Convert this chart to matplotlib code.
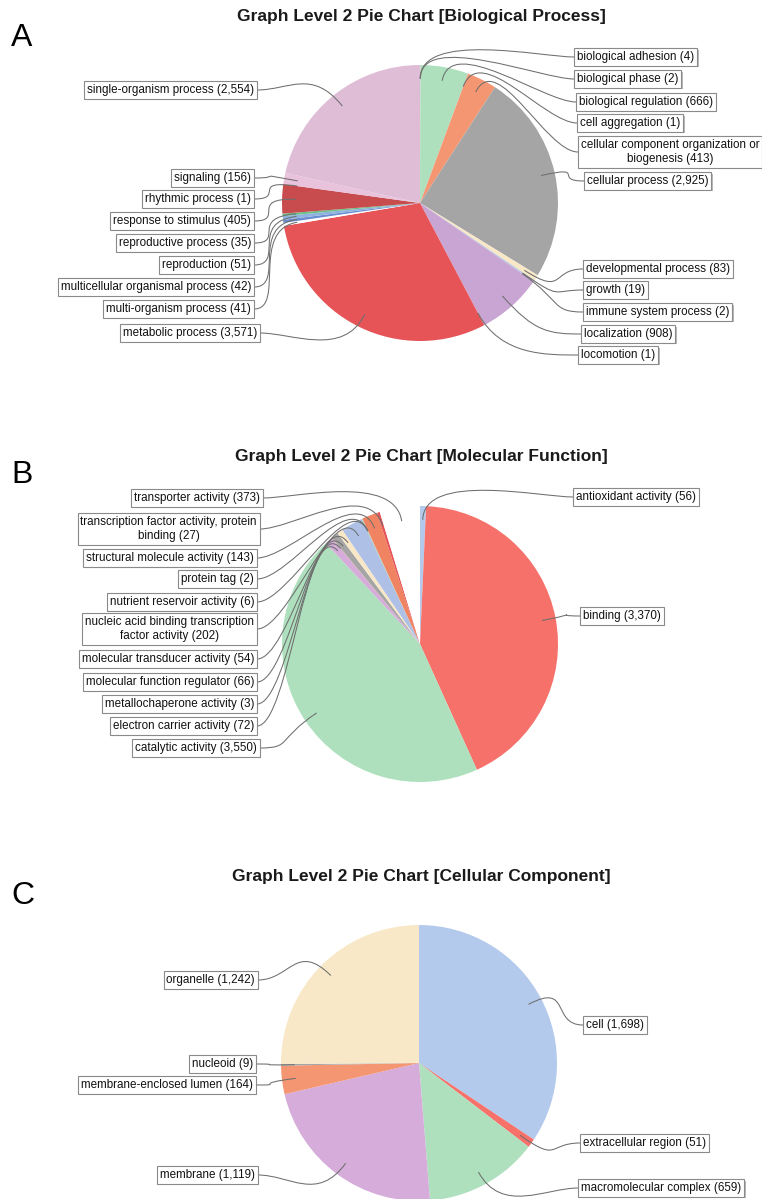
import textwrap
import numpy as np
import matplotlib
matplotlib.use("Agg")
import matplotlib.pyplot as plt
from matplotlib.path import Path
from matplotlib.patches import PathPatch

plt.rcParams['font.family'] = ['Liberation Sans', 'DejaVu Sans']

W, H = 762, 1199

# --- data (GO level 2 counts) ---
bp_names = ["biological adhesion", "biological phase", "biological regulation",
            "cell aggregation", "cellular component organization or biogenesis",
            "cellular process", "developmental process", "growth",
            "immune system process", "localization", "locomotion",
            "metabolic process", "multi-organism process",
            "multicellular organismal process", "reproduction",
            "reproductive process", "response to stimulus", "rhythmic process",
            "signaling", "single-organism process"]
bp_counts = [4, 2, 666, 1, 413, 2925, 83, 19, 2, 908, 1, 3571, 41, 42, 51,
             35, 405, 1, 156, 2554]

mf_names = ["antioxidant activity", "binding", "catalytic activity",
            "electron carrier activity", "metallochaperone activity",
            "molecular function regulator", "molecular transducer activity",
            "nucleic acid binding transcription factor activity",
            "nutrient reservoir activity", "protein tag",
            "structural molecule activity",
            "transcription factor activity, protein binding",
            "transporter activity"]
mf_counts = [56, 3370, 3550, 72, 3, 66, 54, 202, 6, 2, 143, 27, 373]

cc_names = ["cell", "extracellular region", "macromolecular complex",
            "membrane", "membrane-enclosed lumen", "nucleoid", "organelle"]
cc_counts = [1698, 51, 659, 1119, 164, 9, 1242]

# slice colours, same cycle for every chart
palette = ["#b4caec", "#f6716a", "#aee0be", "#d5acda", "#f59673", "#a5a5a5",
           "#f8e8c8", "#aec0e6", "#98d99a", "#c9a5d3", "#f08462", "#e65457",
           "#ffffff", "#6a8cd0", "#8fb3e0", "#6cc08a", "#c84c4e", "#f2b6c8",
           "#e9c2dc", "#dfbdd7"]

# --- layout (pixels, y from top) ---
R = 138
bp_lx = [574, 574, 576, 577, 578, 584, 583, 583, 583, 581, 578,
         260, 254, 254, 254, 254, 254, 254, 254, 257]
bp_ly = [57, 79, 102, 123, 152, 181, 269, 290, 312, 334, 355,
         333, 309, 287, 265, 243, 221, 199, 178, 90]
mf_lx = [573, 580, 260, 257, 257, 257, 257, 257, 257, 257, 257, 260, 263]
mf_ly = [497, 616, 748, 726, 704, 682, 659, 629, 602, 579, 558, 529, 498]
cc_lx = [583, 580, 578, 258, 256, 256, 258]
cc_ly = [1025, 1143, 1188, 1175, 1085, 1064, 980]

fig = plt.figure(figsize=(W / 100, H / 100), dpi=100)
ax = fig.add_axes([0, 0, 1, 1])


def draw_panel(names, counts, center, lx, ly, title, title_y, letter, letter_y):
    cx, cy = center[0], H - center[1]
    ax.pie(counts, colors=palette[:len(counts)], startangle=90,
           counterclock=False, radius=R, center=(cx, cy),
           wedgeprops=dict(linewidth=0))
    fr = np.cumsum([0] + counts) / sum(counts)
    for i, (name, n) in enumerate(zip(names, counts)):
        th = np.radians((fr[i] + fr[i + 1]) / 2 * 360)
        ux, uy = np.sin(th), np.cos(th)
        ex, ey = lx[i], H - ly[i]
        side = -1 if ex < cx else 1
        p0 = (cx + 0.9 * R * ux, cy + 0.9 * R * uy)
        p1 = (cx + 1.25 * R * ux, cy + 1.25 * R * uy)
        p2 = (ex - side * 32, ey)
        path = Path([p0, p1, p2, (ex, ey)],
                    [Path.MOVETO, Path.CURVE4, Path.CURVE4, Path.CURVE4])
        ax.add_patch(PathPatch(path, fc='none', ec='#6e6e6e', lw=0.75,
                               zorder=3))
        txt = textwrap.fill(f"{name} ({n:,})", 38)
        ha = 'right' if side < 0 else 'left'
        tx = ex + side * 3
        ax.text(tx + 1.6, ey - 1.6, txt, ha=ha, va='center', fontsize=8.4,
                color='none', multialignment='center', zorder=4,
                bbox=dict(boxstyle='square,pad=0.24', fc='#b8b8b8', ec='none'))
        ax.text(tx, ey, txt, ha=ha, va='center', fontsize=8.4,
                color='#111111', multialignment='center', zorder=5,
                bbox=dict(boxstyle='square,pad=0.24', fc='white',
                          ec='#8a8a8a', lw=0.8))
    ax.text(421, H - title_y, title, ha='center', va='center', fontsize=12.5,
            fontweight='bold', color='#1a1a1a')
    ax.text(11, H - letter_y, letter, ha='left', va='baseline', fontsize=23,
            color='black')


draw_panel(bp_names, bp_counts, (420, 203), bp_lx, bp_ly,
           "Graph Level 2 Pie Chart [Biological Process]", 17, "A", 46)
draw_panel(mf_names, mf_counts, (420, 644), mf_lx, mf_ly,
           "Graph Level 2 Pie Chart [Molecular Function]", 456, "B", 483)
draw_panel(cc_names, cc_counts, (419, 1063), cc_lx, cc_ly,
           "Graph Level 2 Pie Chart [Cellular Component]", 877, "C", 904)

ax.set_xlim(0, W)
ax.set_ylim(0, H)
ax.set_aspect('auto')
ax.axis('off')
fig.savefig("out.png", dpi=100)
